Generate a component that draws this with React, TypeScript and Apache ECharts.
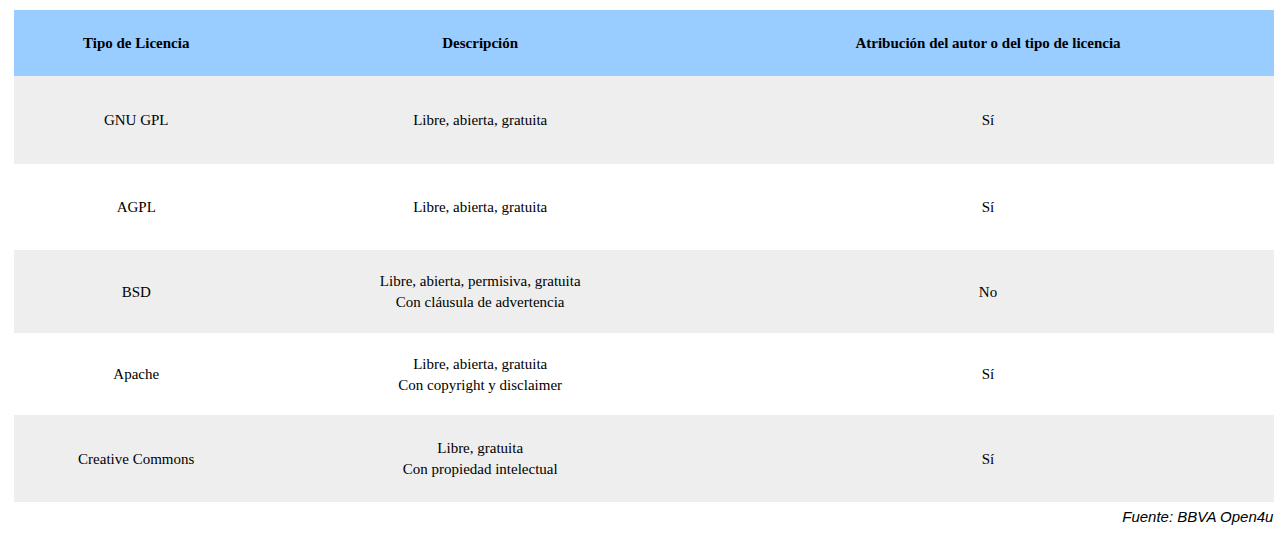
import React, { useEffect, useRef } from "react";
import * as echarts from "echarts";

const headers = ["Tipo de Licencia", "Descripción", "Atribución del autor o del tipo de licencia"];
const licenses = ["GNU GPL", "AGPL", "BSD", "Apache", "Creative Commons"];
const descriptions = [
  "Libre, abierta, gratuita",
  "Libre, abierta, gratuita",
  "Libre, abierta, permisiva, gratuita\nCon cláusula de advertencia",
  "Libre, abierta, gratuita\nCon copyright y disclaimer",
  "Libre, gratuita\nCon propiedad intelectual",
];
const attribution = ["Sí", "Sí", "No", "Sí", "Sí"];
const rowBounds = [0, 66, 154, 240, 323, 405, 492];
const colCenters = [0.097, 0.37, 0.773];
const source = "Fuente: BBVA Open4u";

export default function App() {
  const ref = useRef<HTMLDivElement>(null);
  useEffect(() => {
    document.body.style.margin = "0";
    const chart = echarts.init(ref.current!, null, { renderer: "svg" });
    const rows = [headers, ...licenses.map((l, i) => [l, descriptions[i], attribution[i]])];
    const data = rows.map((r, i) => [i, rowBounds[i], rowBounds[i + 1]]);
    chart.setOption({
      animation: false,
      grid: { left: 14, right: 14, top: 10, height: 492 },
      xAxis: { type: "value", min: 0, max: 1, show: false },
      yAxis: { type: "value", min: 0, max: 492, inverse: true, show: false },
      series: [
        {
          type: "custom",
          data,
          renderItem: (params: any, api: any) => {
            const i = api.value(0);
            const p0 = api.coord([0, api.value(1)]);
            const p1 = api.coord([1, api.value(2)]);
            const isHead = i === 0;
            const fill = isHead ? "#99ccff" : i % 2 === 1 ? "#eeeeee" : "#ffffff";
            const cy = (p0[1] + p1[1]) / 2;
            const children: any[] = [
              { type: "rect", shape: { x: p0[0], y: p0[1], width: p1[0] - p0[0], height: p1[1] - p0[1] }, style: { fill } },
            ];
            rows[i].forEach((t: string, c: number) => {
              const x = api.coord([colCenters[c], 0])[0];
              children.push({
                type: "text",
                style: {
                  x, y: cy, text: t, align: "center", verticalAlign: "middle",
                  fontFamily: "Liberation Serif", fontSize: 15, lineHeight: 21,
                  fontWeight: isHead ? "bold" : "normal", fill: "#000",
                },
              });
            });
            return { type: "group", children };
          },
        },
      ],
      graphic: [
        {
          type: "text", right: 14, top: 509,
          style: { text: source, fontFamily: "Liberation Sans", fontStyle: "italic", fontSize: 15, fill: "#000" },
        },
      ],
    });
    return () => chart.dispose();
  }, []);
  return <div ref={ref} style={{ width: 1288, height: 538 }} />;
}
